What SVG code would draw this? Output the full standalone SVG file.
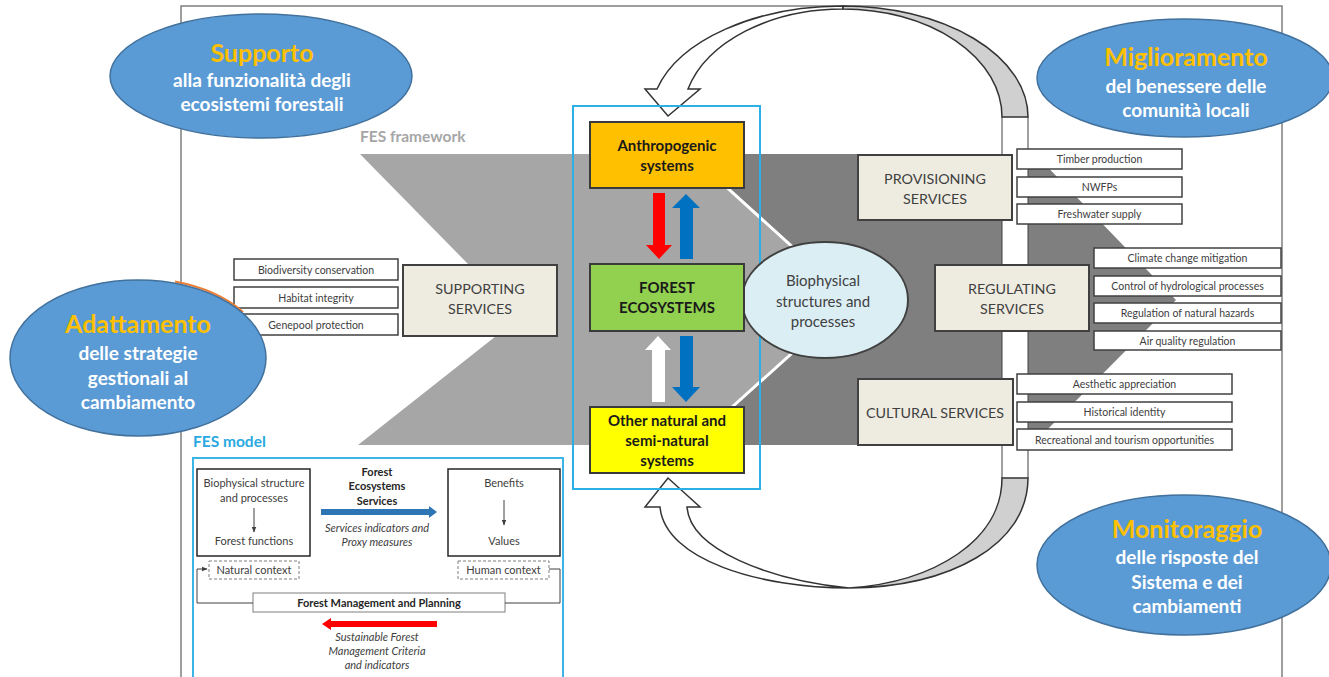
<svg xmlns="http://www.w3.org/2000/svg" width="1329" height="677" viewBox="0 0 1329 677">
<defs>
<style>
text{font-family:Lato,"Liberation Sans",sans-serif;}
.frame{stroke:#7f7f7f;stroke-width:1.5;fill:none}
.loop{stroke:#333;stroke-width:1.5;stroke-linejoin:miter}
.svc{fill:#eeece1;stroke:#404040;stroke-width:2}
.svct{font-size:14.3px;fill:#404040;text-anchor:middle}
.bio{font-size:15px;fill:#404040;text-anchor:middle}
.item{fill:#fff;stroke:#404040;stroke-width:1.5}
.itemt{font-size:10.5px;fill:#404040;text-anchor:middle}
.sys{stroke:#3a3a3a;stroke-width:2}
.syst{font-size:15px;font-weight:bold;fill:#1a1a1a;text-anchor:middle}
.blob{fill:#5b9bd5;stroke:#41719c;stroke-width:1.5}
.bt{font-size:25px;font-weight:bold;fill:#ffc000;text-anchor:middle}
.bb{font-size:19px;font-weight:bold;fill:#fff;text-anchor:middle}
.m{font-size:11px;fill:#404040;text-anchor:middle}
.mb{font-size:11px;font-weight:bold;fill:#262626;text-anchor:middle}
.mi{font-size:11px;font-style:italic;fill:#404040;text-anchor:middle}
.mbox{fill:#fff;stroke:#262626;stroke-width:1.5}
.dash{fill:#fff;stroke:#7f7f7f;stroke-width:1;stroke-dasharray:3 2}
.thin{stroke:#404040;stroke-width:1;fill:none}
</style>
<marker id="ah" viewBox="0 0 10 10" refX="9" refY="5" markerWidth="6" markerHeight="6" orient="auto">
<path d="M0,1 L10,5 L0,9 z" fill="#404040"/>
</marker>
</defs>
<rect width="1329" height="677" fill="#fff"/>
<path class="frame" d="M181,677 V6 H1282 V677"/>

<g id="fes-framework-band">
<polygon points="680,154 1035,154 1176,300 1032,445 680,445" fill="#7f7f7f"/>
<polygon points="360,154 690,154 851,300 690,445 358,445 520,317" fill="#a6a6a6"/>
<polyline points="690,154 851,300 690,445" fill="none" stroke="#fff" stroke-width="3"/>
<text x="360" y="142" font-size="15.5" font-weight="bold" fill="#a6a6a6">FES framework</text>
</g>

<g id="right-strip">
<rect x="1002" y="117" width="26" height="361" fill="#fff"/>
<path class="thin" d="M1002,117 V478 M1028,117 V478" stroke="#333" stroke-width="1.5"/>
</g>

<g id="connectors">
<path class="loop" fill="#fff" d="M843,6 A192,111 0 0 0 657,89 L645,89 L668,116 L700,89 L688,89 A160,108 0 0 1 843,9 Z"/>
<path class="loop" fill="#d0d0d0" d="M843,6 A185,111 0 0 1 1028,117 L1002,117 A159,108 0 0 0 843,9 Z"/>
<path class="loop" fill="#d0d0d0" d="M1028,478 C1028,545 950,587 849,588 C935,582 1002,540 1002,478 Z"/>
<path class="loop" fill="#fff" d="M849,588 C760,588 665,560 660,507 L645,507 L668,478 L700,507 L687,507 C690,550 770,580 849,588 Z"/>
<polygon points="653,193 665,193 665,245 672,245 659,259 646,245 653,245" fill="#ff0000"/>
<polygon points="686,194 700,208 693,208 693,259 680,259 680,208 672,208" fill="#0070c0"/>
<polygon points="658,336 671,350 665,350 665,402 652,402 652,350 645,350" fill="#fff"/>
<polygon points="680,336 693,336 693,387 700,387 686,402 672,387 680,387" fill="#0070c0"/>
</g>

<g id="forest-column-frame">
<rect x="573" y="106" width="187" height="383" fill="none" stroke="#2ab0e6" stroke-width="2"/>
</g>

<g id="biophysical">
<ellipse cx="825" cy="300" rx="83" ry="58" fill="#dbeef4" stroke="#404040" stroke-width="2"/>
<text class="bio" x="823" y="286">Biophysical</text>
<text class="bio" x="823" y="307">structures and</text>
<text class="bio" x="823" y="327">processes</text>
</g>

<g id="anthropogenic">
<rect class="sys" x="590" y="122" width="154" height="66" fill="#ffc000"/>
<text class="syst" x="667" y="151">Anthropogenic</text>
<text class="syst" x="667" y="171">systems</text>
</g>
<g id="forest-ecosystems">
<rect class="sys" x="590" y="264" width="154" height="67" fill="#92d050"/>
<text class="syst" x="667" y="293">FOREST</text>
<text class="syst" x="667" y="313">ECOSYSTEMS</text>
</g>
<g id="other-natural">
<rect class="sys" x="590" y="407" width="154" height="66" fill="#ffff00"/>
<text class="syst" x="667" y="426">Other natural and</text>
<text class="syst" x="667" y="446">semi-natural</text>
<text class="syst" x="667" y="466">systems</text>
</g>

<g id="supporting-services">
<rect class="svc" x="403" y="265" width="154" height="71"/>
<text class="svct" x="480" y="294">SUPPORTING</text>
<text class="svct" x="480" y="314">SERVICES</text>
</g>
<g id="supporting-items">
<rect class="item" x="234" y="259" width="164" height="21"/><text class="itemt" x="316" y="273.5">Biodiversity conservation</text>
<rect class="item" x="234" y="287" width="164" height="21"/><text class="itemt" x="316" y="301.5">Habitat integrity</text>
<rect class="item" x="234" y="314" width="164" height="21"/><text class="itemt" x="316" y="328.5">Genepool protection</text>
</g>

<g id="provisioning-services">
<rect class="svc" x="858" y="155" width="154" height="65"/>
<text class="svct" x="935" y="184">PROVISIONING</text>
<text class="svct" x="935" y="204">SERVICES</text>
</g>
<g id="provisioning-items">
<rect class="item" x="1017" y="149" width="165" height="20"/><text class="itemt" x="1099.5" y="163">Timber production</text>
<rect class="item" x="1017" y="177" width="165" height="20"/><text class="itemt" x="1099.5" y="191">NWFPs</text>
<rect class="item" x="1017" y="204" width="165" height="20"/><text class="itemt" x="1099.5" y="218">Freshwater supply</text>
</g>

<g id="regulating-services">
<rect class="svc" x="935" y="265" width="154" height="66"/>
<text class="svct" x="1012" y="294">REGULATING</text>
<text class="svct" x="1012" y="314">SERVICES</text>
</g>
<g id="regulating-items">
<rect class="item" x="1094" y="248" width="187" height="20"/><text class="itemt" x="1187.5" y="262">Climate change mitigation</text>
<rect class="item" x="1094" y="276" width="187" height="20"/><text class="itemt" x="1187.5" y="290">Control of hydrological processes</text>
<rect class="item" x="1094" y="303" width="187" height="20"/><text class="itemt" x="1187.5" y="317">Regulation of natural hazards</text>
<rect class="item" x="1094" y="331" width="187" height="19"/><text class="itemt" x="1187.5" y="344.5">Air quality regulation</text>
</g>

<g id="cultural-services">
<rect class="svc" x="858" y="379" width="155" height="66"/>
<text class="svct" x="935" y="418">CULTURAL SERVICES</text>
</g>
<g id="cultural-items">
<rect class="item" x="1017" y="374" width="215" height="20"/><text class="itemt" x="1124.5" y="388">Aesthetic appreciation</text>
<rect class="item" x="1017" y="402" width="215" height="20"/><text class="itemt" x="1124.5" y="416">Historical identity</text>
<rect class="item" x="1017" y="429" width="215" height="21"/><text class="itemt" x="1124.5" y="443.5">Recreational and tourism opportunities</text>
</g>

<g id="fes-model">
<text x="193" y="447" font-size="15.5" font-weight="bold" fill="#29a9e1">FES model</text>
<rect x="193" y="458" width="370" height="230" fill="none" stroke="#3cb4e6" stroke-width="2"/>
<g id="fes-biophysical">
<rect class="mbox" x="197" y="469" width="113" height="87"/>
<text class="m" x="254" y="487">Biophysical structure</text>
<text class="m" x="254" y="502">and processes</text>
<line class="thin" x1="254" y1="508" x2="254" y2="532" stroke="#7f7f7f" marker-end="url(#ah)"/>
<text class="m" x="254" y="545">Forest functions</text>
</g>
<g id="fes-natural-context">
<rect class="dash" x="209" y="561" width="90" height="18"/>
<text class="m" x="254" y="574">Natural context</text>
</g>
<g id="fes-benefits">
<rect class="mbox" x="448" y="469" width="112" height="87"/>
<text class="m" x="504" y="487">Benefits</text>
<line class="thin" x1="504" y1="500" x2="504" y2="525" stroke="#7f7f7f" marker-end="url(#ah)"/>
<text class="m" x="504" y="545">Values</text>
</g>
<g id="fes-human-context">
<rect class="dash" x="458" y="561" width="91" height="18"/>
<text class="m" x="503.5" y="574">Human context</text>
</g>
<g id="fes-services">
<text class="mb" x="377" y="476">Forest</text>
<text class="mb" x="377" y="490">Ecosystems</text>
<text class="mb" x="377" y="505">Services</text>
<polygon points="321,509 429,509 429,506 437,512 429,518 429,515 321,515" fill="#2e75b6"/>
<text class="mi" x="377" y="532">Services indicators and</text>
<text class="mi" x="377" y="546">Proxy measures</text>
</g>
<g id="fes-management">
<rect x="253" y="593" width="252" height="19" fill="#fff" stroke="#7f7f7f" stroke-width="1"/>
<text class="mb" x="379" y="606.5">Forest Management and Planning</text>
</g>
<g id="fes-feedback">
<polyline class="thin" points="549,569 560,569 560,603 505,603"/>
<polyline class="thin" points="253,603 197,603 197,569 207,569" marker-end="url(#ah)"/>
<polygon points="322,624 331,618 331,621 437,621 437,627 331,627 331,630" fill="#ff0000"/>
<text class="mi" x="377" y="641">Sustainable Forest</text>
<text class="mi" x="377" y="655">Management Criteria</text>
<text class="mi" x="377" y="669">and indicators</text>
</g>
</g>

<g id="supporto">
<ellipse class="blob" cx="261" cy="76" rx="151" ry="62"/>
<text class="bt" x="262" y="62">Supporto</text>
<text class="bb" x="262" y="87">alla funzionalità degli</text>
<text class="bb" x="262" y="111">ecosistemi forestali</text>
</g>
<g id="miglioramento">
<ellipse class="blob" cx="1185" cy="78" rx="148" ry="59"/>
<text class="bt" x="1186" y="66">Miglioramento</text>
<text class="bb" x="1186" y="93">del benessere delle</text>
<text class="bb" x="1186" y="117">comunità locali</text>
</g>
<g id="adattamento">
<path d="M175,281.5 A129,79 0 0 1 243,312" fill="none" stroke="#ed7d31" stroke-width="2"/>
<ellipse class="blob" cx="138" cy="358" rx="128" ry="78"/>
<text class="bt" x="138" y="333">Adattamento</text>
<text class="bb" x="138" y="360">delle strategie</text>
<text class="bb" x="138" y="385">gestionali al</text>
<text class="bb" x="138" y="409">cambiamento</text>
</g>
<g id="monitoraggio">
<ellipse class="blob" cx="1184" cy="565" rx="147" ry="70"/>
<text class="bt" x="1187" y="538">Monitoraggio</text>
<text class="bb" x="1187" y="564">delle risposte del</text>
<text class="bb" x="1187" y="589">Sistema e dei</text>
<text class="bb" x="1187" y="613">cambiamenti</text>
</g>
</svg>
